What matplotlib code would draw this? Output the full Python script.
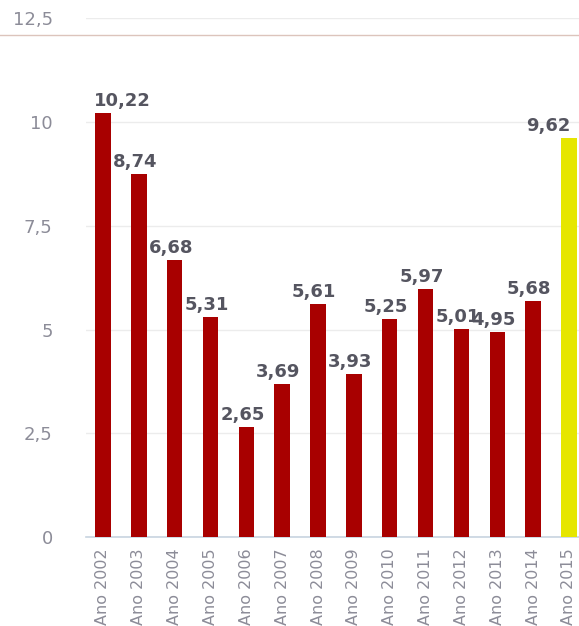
import matplotlib
matplotlib.use("Agg")
import matplotlib.pyplot as plt
from matplotlib.lines import Line2D
from matplotlib.transforms import ScaledTranslation

# ── Data ───────────────────────────────────────────────────────────────────
years = ["Ano 2002", "Ano 2003", "Ano 2004", "Ano 2005", "Ano 2006", "Ano 2007",
         "Ano 2008", "Ano 2009", "Ano 2010", "Ano 2011", "Ano 2012", "Ano 2013",
         "Ano 2014", "Ano 2015"]
values = [10.22, 8.74, 6.68, 5.31, 2.65, 3.69, 5.61, 3.93, 5.25, 5.97, 5.01, 4.95, 5.68, 9.62]
y_ticks = [0, 2.5, 5, 7.5, 10, 12.5]

RED = "#a80000"
YELLOW = "#e6e600"
colors = [RED] * (len(values) - 1) + [YELLOW]

plt.rcParams["font.family"] = ["DejaVu Sans"]

fig = plt.figure(figsize=(5.79, 6.26), dpi=100)
ax = fig.add_axes([0.1485, 0.142, 0.8515, 0.829])

x = list(range(len(values)))
ax.bar(x, values, width=0.43, color=colors, zorder=3)

# value labels (kept inside the plot area at both ends)
n = len(values)
for xi, v in zip(x, values):
    txt = f"{v:.2f}".replace(".", ",")
    if xi == 0:
        pos, ha, dx = xi - 0.25, "left", 0
    elif xi == n - 1:
        pos, ha, dx = xi + 0.03, "right", 0
    else:
        pos, ha, dx = xi, "center", -4
    ax.annotate(txt, (pos, v), xytext=(dx, 7), textcoords="offset pixels",
                ha=ha, va="baseline", fontsize=13, fontweight="bold",
                color="#555560", zorder=4)

ax.set_xlim(-0.474, 13.28)
ax.set_ylim(0, 12.5)
ax.set_yticks(y_ticks)
ax.set_yticklabels([f"{t:g}".replace(".", ",") for t in y_ticks])
ax.set_xticks(x)
ax.set_xticklabels(years, rotation=90, va="top")
for lab in ax.get_xticklabels():
    lab.set_transform(lab.get_transform() + ScaledTranslation(-0.075, 0, fig.dpi_scale_trans))

ax.grid(axis="y", color="#ececec", linewidth=1, zorder=0)
for s in ["top", "right", "left"]:
    ax.spines[s].set_visible(False)
ax.spines["bottom"].set_color("#c8d4e0")
ax.spines["bottom"].set_linewidth(1.2)

ax.tick_params(axis="y", length=0, labelcolor="#8c8c98", labelsize=13, pad=24)
ax.tick_params(axis="x", length=0, labelcolor="#8c8c98", labelsize=11.5, pad=8)

# thin separator line near the top of the image
fig.add_artist(Line2D([0, 1], [1 - 35 / 626, 1 - 35 / 626], transform=fig.transFigure,
                      color="#dcc4bc", linewidth=1))

plt.savefig("out.png", dpi=100)
plt.close()
